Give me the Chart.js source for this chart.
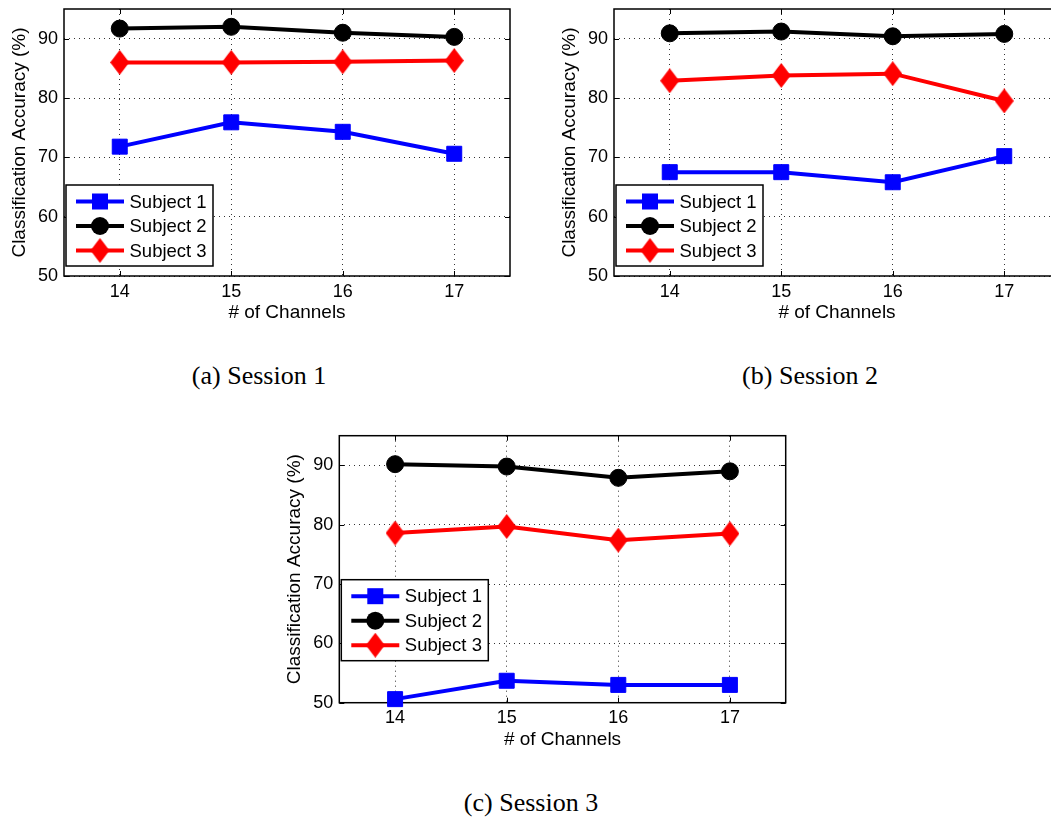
<!DOCTYPE html>
<html><head><meta charset="utf-8">
<script src="https://cdn.jsdelivr.net/npm/chart.js@4/dist/chart.umd.min.js"></script>
<style>
html,body{margin:0;padding:0;background:#fff;overflow:hidden;width:1051px;height:822px;position:relative;}
canvas{position:absolute;}
.cap{position:absolute;font-family:"Liberation Serif","Times New Roman",serif;font-size:26px;color:#000;white-space:nowrap;transform:translateX(-50%);line-height:26px;}
</style></head><body>
<canvas id="c1" width="525" height="335" style="left:0;top:0"></canvas>
<canvas id="c2" width="540" height="335" style="left:540px;top:0"></canvas>
<canvas id="c3" width="525" height="335" style="left:280px;top:420px"></canvas>
<div class="cap" style="left:259px;top:363px">(a) Session 1</div>
<div class="cap" style="left:810px;top:363px">(b) Session 2</div>
<div class="cap" style="left:531px;top:790px">(c) Session 3</div>
<script>
// ---- data ----
const channels = ['14', '15', '16', '17'];
const yTicks = [50, 60, 70, 80, 90];
const subjects = ['Subject 1', 'Subject 2', 'Subject 3'];

const s1Subject1 = [71.8, 75.9, 74.3, 70.6];
const s1Subject2 = [91.7, 92.0, 91.0, 90.3];
const s1Subject3 = [86.0, 86.0, 86.1, 86.3];

const s2Subject1 = [67.5, 67.5, 65.8, 70.2];
const s2Subject2 = [90.9, 91.2, 90.4, 90.8];
const s2Subject3 = [82.9, 83.8, 84.1, 79.5];

const s3Subject1 = [50.6, 53.7, 53.0, 53.0];
const s3Subject2 = [90.2, 89.8, 87.9, 89.0];
const s3Subject3 = [78.6, 79.7, 77.4, 78.5];

const FONT = '"Liberation Sans", Arial, Helvetica, sans-serif';

function diamondImg(color, w, h) {
  const c = document.createElement('canvas');
  c.width = w; c.height = h;
  const g = c.getContext('2d');
  g.fillStyle = color;
  g.beginPath();
  g.moveTo(w / 2, 0); g.lineTo(w, h / 2); g.lineTo(w / 2, h); g.lineTo(0, h / 2);
  g.closePath(); g.fill();
  return c;
}
const redDiamond = diamondImg('#ff0000', 19, 25);

function drawMarker(ctx, style, x, y, color) {
  ctx.save();
  if (typeof style === 'object') {
    ctx.drawImage(style, x - style.width / 2, y - style.height / 2);
  } else if (style === 'rect') {
    ctx.fillStyle = color; ctx.fillRect(x - 8, y - 8, 16, 16);
  } else {
    ctx.fillStyle = color; ctx.beginPath(); ctx.arc(x, y, 9, 0, Math.PI * 2); ctx.fill();
  }
  ctx.restore();
}

const framePlugin = {
  id: 'frame',
  beforeDatasetsDraw(chart) {
    const {ctx, chartArea: a, scales: {x, y}} = chart;
    ctx.save();
    ctx.strokeStyle = '#000';
    ctx.lineWidth = 1;
    ctx.beginPath();
    x.ticks.forEach((t, i) => {
      const px = Math.round(x.getPixelForTick(i)) + 0.5;
      ctx.moveTo(px, a.bottom); ctx.lineTo(px, a.bottom - 5);
      ctx.moveTo(px, a.top); ctx.lineTo(px, a.top + 5);
    });
    y.ticks.forEach((t, i) => {
      const py = Math.round(y.getPixelForTick(i)) + 0.5;
      ctx.moveTo(a.left, py); ctx.lineTo(a.left + 5, py);
      ctx.moveTo(a.right, py); ctx.lineTo(a.right - 5, py);
    });
    ctx.stroke();
    ctx.lineWidth = 1.5;
    ctx.strokeRect(a.left, a.top, a.right - a.left, a.bottom - a.top);
    ctx.restore();
  }
};

const boxLegend = {
  id: 'boxLegend',
  afterDatasetsDraw(chart, args, o) {
    const {ctx, chartArea: a} = chart;
    const bx = a.left + o.dx, by = a.bottom - o.dy - o.h;
    ctx.save();
    ctx.fillStyle = '#fff';
    ctx.fillRect(bx, by, o.w, o.h);
    ctx.strokeStyle = '#000'; ctx.lineWidth = 1.5;
    ctx.strokeRect(bx, by, o.w, o.h);
    chart.data.datasets.forEach((ds, i) => {
      const cy = by + 16.5 + i * 24.5;
      ctx.strokeStyle = ds.borderColor; ctx.lineWidth = ds.borderWidth;
      ctx.beginPath(); ctx.moveTo(bx + 10, cy); ctx.lineTo(bx + 58, cy); ctx.stroke();
      drawMarker(ctx, ds.pointStyle, bx + 34, cy, ds.borderColor);
      ctx.fillStyle = '#000';
      ctx.font = '18.5px ' + FONT;
      ctx.textBaseline = 'middle';
      ctx.textAlign = 'left';
      ctx.fillText(ds.label, bx + 63.5, cy + 1);
    });
    ctx.restore();
  }
};

function makeChart(id, d1, d2, d3, L) {
  const common = {borderWidth: 4, tension: 0, clip: false, pointBorderWidth: 1};
  new Chart(document.getElementById(id), {
    type: 'line',
    data: {
      labels: channels,
      datasets: [
        Object.assign({label: subjects[0], data: d1, borderColor: '#0000ff', backgroundColor: '#0000ff',
          pointStyle: 'rect', pointRadius: 10.6, pointBackgroundColor: '#0000ff', pointBorderColor: '#0000ff'}, common),
        Object.assign({label: subjects[1], data: d2, borderColor: '#000000', backgroundColor: '#000000',
          pointStyle: 'circle', pointRadius: 8.5, pointBackgroundColor: '#000000', pointBorderColor: '#000000'}, common),
        Object.assign({label: subjects[2], data: d3, borderColor: '#ff0000', backgroundColor: '#ff0000',
          pointStyle: redDiamond, pointRadius: 11, pointBackgroundColor: '#ff0000', pointBorderColor: '#ff0000'}, common)
      ]
    },
    options: {
      responsive: false,
      devicePixelRatio: 1,
      animation: false,
      events: [],
      layout: {autoPadding: false, padding: {left: 0, top: L.top, right: L.right, bottom: 0}},
      plugins: {
        legend: {display: false},
        tooltip: {enabled: false},
        boxLegend: {dx: 2, dy: L.legDy, w: 147, h: 81}
      },
      scales: {
        x: {
          type: 'category',
          offset: true,
          grid: {offset: false, color: '#333', lineWidth: 1, drawTicks: false},
          border: {display: false, dash: [1, 4]},
          ticks: {color: '#000', font: {family: FONT, size: 18}, padding: 5, maxRotation: 0},
          title: {display: true, text: '# of Channels', color: '#000', font: {family: FONT, size: 19},
            padding: {top: 0, bottom: L.xTitlePad}},
          afterFit(s) { s.height = L.xAxisH; s.paddingLeft = 0; s.paddingRight = 0; }
        },
        y: {
          min: 50, max: 95,
          grid: {color: '#333', lineWidth: 1, drawTicks: false},
          border: {display: false, dash: [1, 4]},
          ticks: {color: '#000', font: {family: FONT, size: 18}, padding: 6},
          afterBuildTicks(s) { s.ticks = yTicks.map(v => ({value: v})); },
          title: {display: true, text: 'Classification Accuracy (%)', color: '#000', font: {family: FONT, size: 19},
            padding: {top: L.yTitlePad, bottom: 0}},
          afterFit(s) { s.width = L.yAxisW; s.paddingTop = 0; s.paddingBottom = 0; }
        }
      }
    },
    plugins: [framePlugin, boxLegend]
  });
}

makeChart('c1', s1Subject1, s1Subject2, s1Subject3,
  {top: 9, right: 15, yAxisW: 64, xAxisH: 59, yTitlePad: 8.5, xTitlePad: 10.5, legDy: 10});
makeChart('c2', s2Subject1, s2Subject2, s2Subject3,
  {top: 9, right: 20, yAxisW: 74, xAxisH: 59, yTitlePad: 18.5, xTitlePad: 10.5, legDy: 10});
makeChart('c3', s3Subject1, s3Subject2, s3Subject3,
  {top: 15.7, right: 19.3, yAxisW: 59.3, xAxisH: 52.3, yTitlePad: 3.5, xTitlePad: 4, legDy: 42});
</script>
</body></html>
